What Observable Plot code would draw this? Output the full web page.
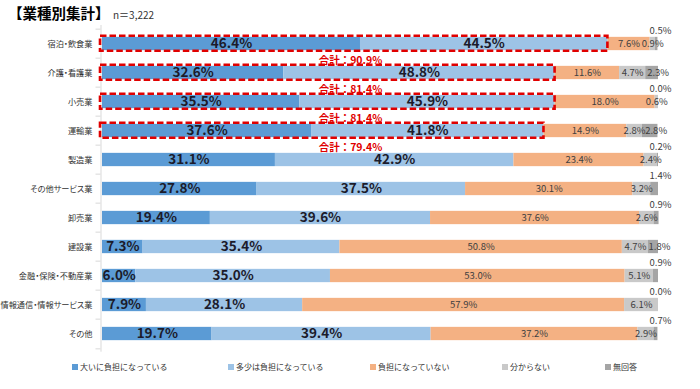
<!DOCTYPE html>
<html><head><meta charset="utf-8">
<script src="https://cdn.jsdelivr.net/npm/d3@7"></script>
<script src="https://cdn.jsdelivr.net/npm/@observablehq/plot@0.6"></script>
<style>
body{margin:0;background:#fff;font-family:"Noto Sans CJK JP",sans-serif;}
#wrap{position:relative;width:700px;height:389px;overflow:hidden;}
#chart{position:absolute;left:0;top:0;}
#chart svg g[fill="#323232"] text, #chart svg g[fill="#323232"]{font-feature-settings:"palt";}
#title{position:absolute;left:8px;top:2px;font-size:14.5px;font-weight:bold;color:#000;white-space:nowrap;}
#n{position:absolute;left:113px;top:7px;font-size:10px;color:#333;white-space:nowrap;}
.lg{position:absolute;top:360px;font-size:8px;color:#333;white-space:nowrap;line-height:14px;}
.lg span{display:inline-block;width:6px;height:6px;margin-right:2px;vertical-align:0px;}
</style></head>
<body><div id="wrap"><div id="chart"></div><div id="title"></div><div id="n"></div><div id="legend"></div></div>
<script>
const title = "【業種別集計】";
const nLabel = "n＝3,222";
const categories = ["宿泊・飲食業","介護・看護業","小売業","運輸業","製造業","その他サービス業","卸売業","建設業","金融・保険・不動産業","情報通信・情報サービス業","その他"];
const series = ["大いに負担になっている","多少は負担になっている","負担になっていない","分からない","無回答"];
const colors = ["#5B9BD5","#9DC3E6","#F4B183","#C9C9C9","#A5A5A5"];
const greatly   = [46.4,32.6,35.5,37.6,31.1,27.8,19.4,7.3,6.0,7.9,19.7];
const somewhat  = [44.5,48.8,45.9,41.8,42.9,37.5,39.6,35.4,35.0,28.1,39.4];
const notBurden = [7.6,11.6,18.0,14.9,23.4,30.1,37.6,50.8,53.0,57.9,37.2];
const unknown   = [0.9,4.7,0.6,2.8,2.4,3.2,2.6,4.7,5.1,6.1,2.9];
const noAnswer  = [0.5,2.3,0.0,2.8,0.2,1.4,0.9,1.8,0.9,0.0,0.7];
const totalCats = ["宿泊・飲食業","介護・看護業","小売業","運輸業"];
const totals = [90.9,81.4,81.4,79.4];
const totalPrefix = "合計：";

const valuesBySeries = [greatly, somewhat, notBurden, unknown, noAnswer];
const table = [];
categories.forEach((cat, i) => {
  let acc = 0;
  valuesBySeries.forEach((arr, j) => {
    const v = arr[i];
    table.push({cat, series: series[j], j, value: v, x1: acc, x2: acc + v, mid: acc + v / 2});
    acc += v;
  });
});
const boxes = totalCats.map((c, i) => ({cat: c, total: totals[i]}));
const fmt = d => d.value.toFixed(1) + "%";
const above = d => d.j === 4 && d.value < 1.5;

const step = 29.7;
const inset = (step - 14) / 2;
const plot = Plot.plot({
  width: 700, height: 389,
  marginLeft: 102, marginRight: 42, marginTop: 25, marginBottom: 389 - 25 - step * 11,
  style: {fontFamily: "'Noto Sans CJK JP', sans-serif", background: "transparent"},
  x: {domain: [0, 100], axis: null},
  y: {domain: categories, padding: 0, axis: null},
  color: {domain: series, range: colors},
  marks: [
    Plot.ruleX([0], {stroke: "#d9d9d9", dx: -1.5}),
    Plot.ruleY(categories, {y: d => d, x1: -0.9, x2: 0, dy: -step / 2, dx: -1.5, stroke: "#d9d9d9"}),
    Plot.ruleY([categories[categories.length - 1]], {y: d => d, x1: -0.9, x2: 0, dy: step / 2, dx: -1.5, stroke: "#d9d9d9"}),
    Plot.barX(table, {x1: "x1", x2: "x2", y: "cat", fill: "series", insetTop: inset, insetBottom: inset}),
    Plot.barX(boxes, {x1: 0, x2: "total", y: "cat", fill: "none", stroke: "#E00000", strokeWidth: 2.6, strokeDasharray: "6.5,3", insetTop: 6.8, insetBottom: 7.2, insetLeft: -2, insetRight: 0}),
    Plot.text(categories, {y: d => d, x: 0, text: d => d, textAnchor: "end", dx: -10, fontSize: 8.2, fill: "#323232"}),
    Plot.text(table.filter(d => d.j < 2), {x: "mid", y: "cat", text: fmt, fontSize: 13.5, fontWeight: "bold", fill: "#1b1b2b"}),
    Plot.text(table.filter(d => d.j >= 2 && d.j < 4), {x: "mid", y: "cat", text: fmt, fontSize: 9.5, fill: "#404040"}),
    Plot.text(table.filter(d => d.j === 4 && !above(d)), {x: "mid", y: "cat", text: fmt, fontSize: 9.5, fill: "#404040", dx: 6}),
    Plot.text(table.filter(above), {x: 100, y: "cat", text: fmt, fontSize: 9.5, fill: "#404040", dx: 2, dy: -13.5}),
    Plot.text(boxes, {x: 44.6, y: "cat", text: d => totalPrefix + d.total.toFixed(1) + "%", fontSize: 10.5, fontWeight: "bold", fill: "#E00000", dy: 16.5})
  ]
});
document.getElementById("chart").appendChild(plot);
document.getElementById("title").textContent = title;
document.getElementById("n").textContent = nLabel;
const legendX = [72, 228, 370, 502, 605];
const lg = document.getElementById("legend");
series.forEach((s, j) => {
  const d = document.createElement("div");
  d.className = "lg";
  d.style.left = legendX[j] + "px";
  const sw = document.createElement("span");
  sw.style.background = colors[j];
  d.appendChild(sw);
  d.appendChild(document.createTextNode(s));
  lg.appendChild(d);
});
</script></body></html>
